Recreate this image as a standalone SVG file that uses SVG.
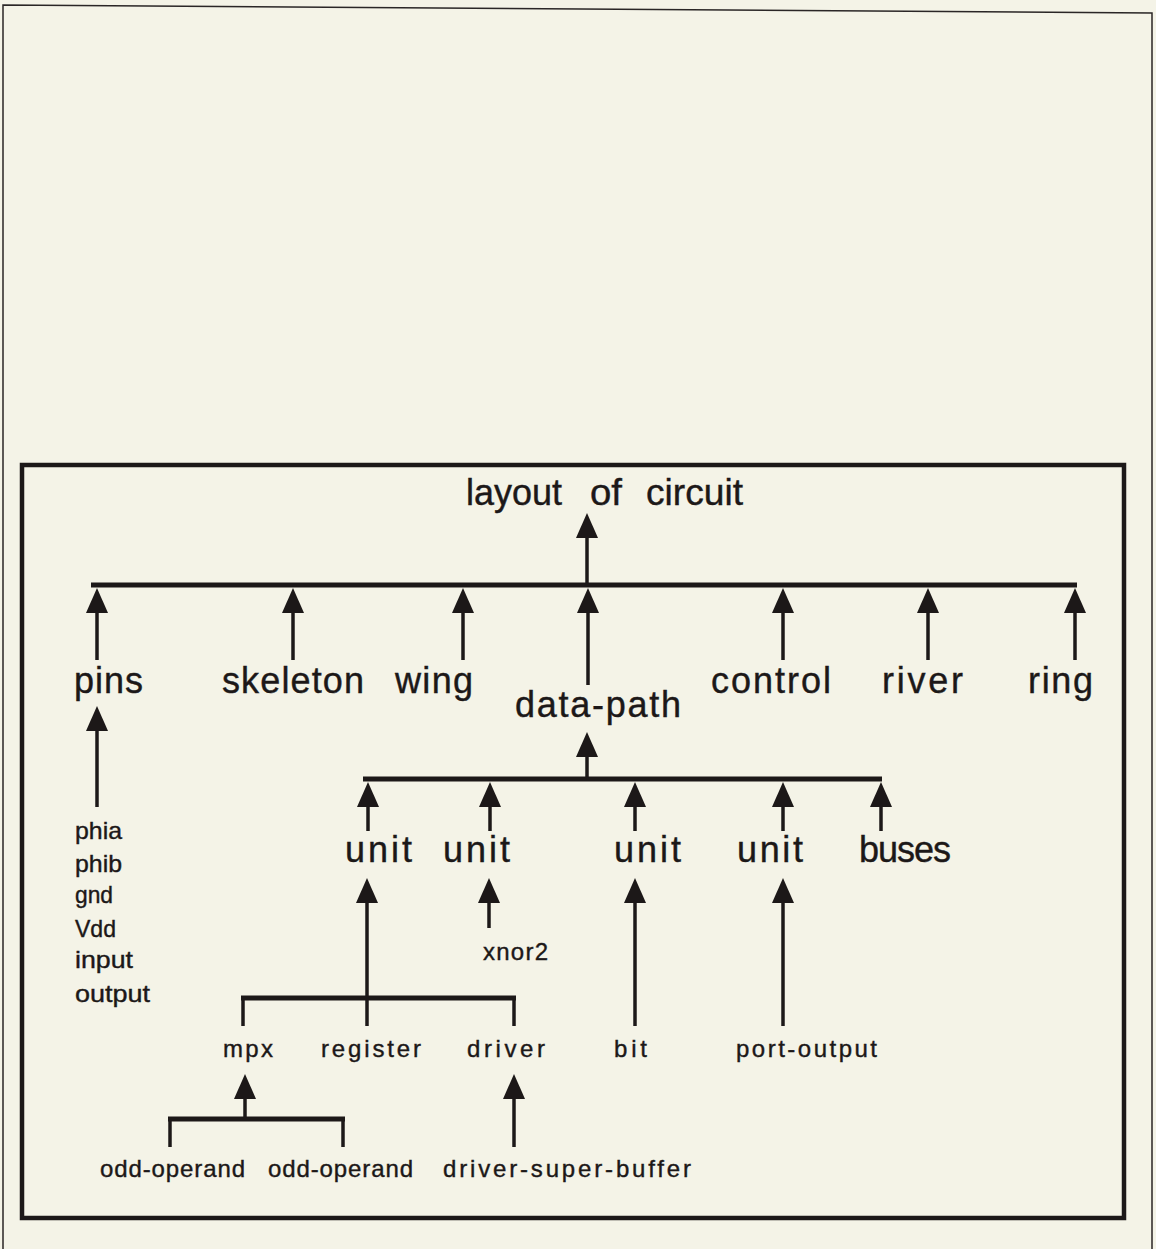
<svg xmlns="http://www.w3.org/2000/svg" width="1156" height="1249" viewBox="0 0 1156 1249">
  <style>
    .page { fill: none; stroke: #2a2626; stroke-width: 1.5; }
    .frame { fill: none; stroke: #1c1818; stroke-width: 4.5; }
    .bus { stroke: #1c1818; stroke-width: 5; stroke-linecap: butt; fill: none; }
    .arrow { stroke: #1c1818; stroke-width: 3.5; fill: none; marker-end: url(#head); }
    .tick { stroke: #1c1818; stroke-width: 3.5; fill: none; }
    text { font-family: "Liberation Sans", Arial, Helvetica, sans-serif; fill: #1c1818; stroke: #1c1818; stroke-width: 0.4; }
    .big { font-size: 36px; }
    .small { font-size: 24px; }
  </style>
  <defs>
    <!-- solid triangular arrowhead, tip sits 10px beyond the line end -->
    <marker id="head" viewBox="0 0 25 22" refX="15" refY="11" markerWidth="25" markerHeight="22" markerUnits="userSpaceOnUse" orient="auto">
      <path d="M0,0 L25,11 L0,22 Z" fill="#1c1818"/>
    </marker>
  </defs>

  <rect width="1156" height="1249" fill="#f4f3e7"/>

  <!-- sheet edges -->
  <path class="page" d="M3,1249 L3,5 L1152,13 L1152,1249"/>

  <!-- figure frame -->
  <rect class="frame" x="22" y="465" width="1102" height="753"/>

  <g id="connectors">
    <!-- level 1: children of layout of circuit -->
    <line class="bus" x1="91" y1="585" x2="1077" y2="585"/>
    <line class="arrow" x1="587" y1="585" x2="587" y2="523"/>
    <line class="arrow" x1="97" y1="660" x2="97" y2="598"/>
    <line class="arrow" x1="293" y1="660" x2="293" y2="598"/>
    <line class="arrow" x1="463" y1="660" x2="463" y2="598"/>
    <line class="arrow" x1="588" y1="685" x2="588" y2="598"/>
    <line class="arrow" x1="783" y1="660" x2="783" y2="598"/>
    <line class="arrow" x1="928" y1="660" x2="928" y2="598"/>
    <line class="arrow" x1="1075" y1="660" x2="1075" y2="598"/>

    <!-- pins inputs -->
    <line class="arrow" x1="97" y1="807" x2="97" y2="716"/>

    <!-- level 2: children of data-path -->
    <line class="bus" x1="363" y1="779" x2="882" y2="779"/>
    <line class="arrow" x1="587" y1="779" x2="587" y2="742"/>
    <line class="arrow" x1="368" y1="831" x2="368" y2="792"/>
    <line class="arrow" x1="490" y1="831" x2="490" y2="792"/>
    <line class="arrow" x1="635" y1="831" x2="635" y2="792"/>
    <line class="arrow" x1="783" y1="831" x2="783" y2="792"/>
    <line class="arrow" x1="881" y1="831" x2="881" y2="792"/>

    <!-- level 3: unit contents -->
    <line class="bus" x1="241" y1="998" x2="516" y2="998"/>
    <line class="arrow" x1="367" y1="998" x2="367" y2="888"/>
    <line class="tick" x1="243" y1="998" x2="243" y2="1026"/>
    <line class="tick" x1="367" y1="998" x2="367" y2="1026"/>
    <line class="tick" x1="514" y1="998" x2="514" y2="1026"/>
    <line class="arrow" x1="489" y1="928" x2="489" y2="888"/>
    <line class="arrow" x1="635" y1="1026" x2="635" y2="888"/>
    <line class="arrow" x1="783" y1="1026" x2="783" y2="888"/>

    <!-- level 4: mpx and driver contents -->
    <line class="bus" x1="168" y1="1119" x2="345" y2="1119"/>
    <line class="arrow" x1="245" y1="1119" x2="245" y2="1084"/>
    <line class="tick" x1="170" y1="1119" x2="170" y2="1147"/>
    <line class="tick" x1="343" y1="1119" x2="343" y2="1147"/>
    <line class="arrow" x1="514" y1="1147" x2="514" y2="1084"/>
  </g>

  <g id="layout-of-circuit">
    <text class="big" y="505"><tspan x="466" textLength="96" lengthAdjust="spacingAndGlyphs">layout</tspan> <tspan x="590" textLength="32" lengthAdjust="spacingAndGlyphs">of</tspan> <tspan x="646" textLength="97" lengthAdjust="spacingAndGlyphs">circuit</tspan></text>
  </g>

  <g id="pins"><text class="big" x="74" y="693" textLength="69" lengthAdjust="spacing">pins</text></g>
  <g id="skeleton"><text class="big" x="222" y="693" textLength="142" lengthAdjust="spacing">skeleton</text></g>
  <g id="wing"><text class="big" x="395" y="693" textLength="78" lengthAdjust="spacing">wing</text></g>
  <g id="data-path"><text class="big" x="515" y="717" textLength="166" lengthAdjust="spacing">data-path</text></g>
  <g id="control"><text class="big" x="711" y="693" textLength="120" lengthAdjust="spacing">control</text></g>
  <g id="river"><text class="big" x="882" y="693" textLength="81" lengthAdjust="spacing">river</text></g>
  <g id="ring"><text class="big" x="1028" y="693" textLength="65" lengthAdjust="spacing">ring</text></g>

  <g id="pin-list">
    <text class="small" x="75" y="839" textLength="47" lengthAdjust="spacingAndGlyphs">phia</text>
    <text class="small" x="75" y="872" textLength="47" lengthAdjust="spacingAndGlyphs">phib</text>
    <text class="small" x="75" y="903" textLength="38" lengthAdjust="spacingAndGlyphs">gnd</text>
    <text class="small" x="75" y="937" textLength="41" lengthAdjust="spacingAndGlyphs">Vdd</text>
    <text class="small" x="75" y="968" textLength="58" lengthAdjust="spacingAndGlyphs">input</text>
    <text class="small" x="75" y="1002" textLength="75" lengthAdjust="spacingAndGlyphs">output</text>
  </g>

  <g id="unit-1"><text class="big" x="345" y="862" textLength="67" lengthAdjust="spacing">unit</text></g>
  <g id="unit-2"><text class="big" x="443" y="862" textLength="67" lengthAdjust="spacing">unit</text></g>
  <g id="unit-3"><text class="big" x="614" y="862" textLength="67" lengthAdjust="spacing">unit</text></g>
  <g id="unit-4"><text class="big" x="737" y="862" textLength="66" lengthAdjust="spacing">unit</text></g>
  <g id="buses"><text class="big" x="859" y="862" textLength="92" lengthAdjust="spacing">buses</text></g>

  <g id="xnor2"><text class="small" x="483" y="960" textLength="65" lengthAdjust="spacing">xnor2</text></g>
  <g id="mpx"><text class="small" x="223" y="1057" textLength="50" lengthAdjust="spacing">mpx</text></g>
  <g id="register"><text class="small" x="321" y="1057" textLength="100" lengthAdjust="spacing">register</text></g>
  <g id="driver"><text class="small" x="467" y="1057" textLength="78" lengthAdjust="spacing">driver</text></g>
  <g id="bit"><text class="small" x="614" y="1057" textLength="33" lengthAdjust="spacing">bit</text></g>
  <g id="port-output"><text class="small" x="736" y="1057" textLength="141" lengthAdjust="spacing">port-output</text></g>

  <g id="odd-operand-1"><text class="small" x="100" y="1177" textLength="145" lengthAdjust="spacing">odd-operand</text></g>
  <g id="odd-operand-2"><text class="small" x="268" y="1177" textLength="145" lengthAdjust="spacing">odd-operand</text></g>
  <g id="driver-super-buffer"><text class="small" x="443" y="1177" textLength="248" lengthAdjust="spacing">driver-super-buffer</text></g>
</svg>
